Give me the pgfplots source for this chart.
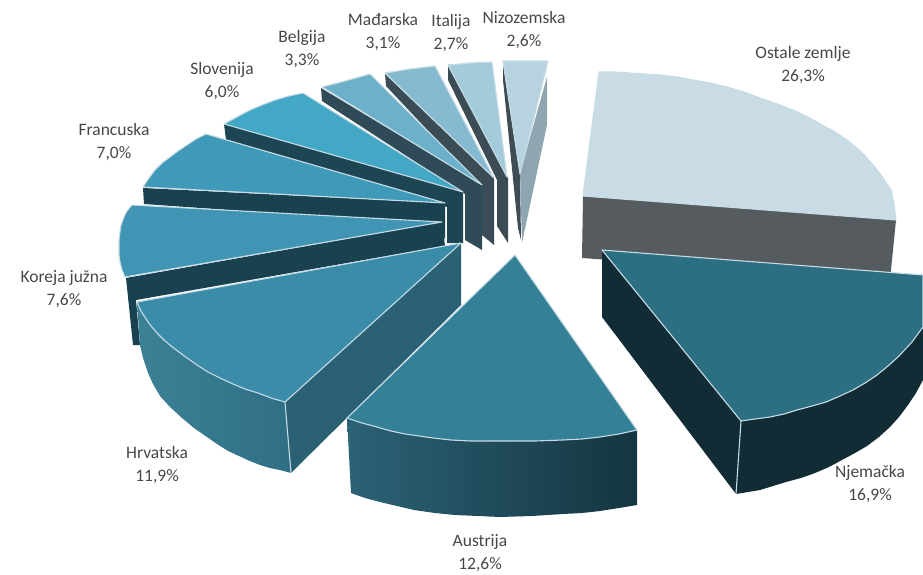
\documentclass[border=0pt]{standalone}
\usepackage{fontspec}
\setmainfont{Carlito}
\usepackage{pgfplots}
\pgfplotsset{compat=1.18}
\definecolor{edge}{HTML}{C6DCE4}
\definecolor{nizD}{HTML}{3F4C54}\definecolor{nizG}{HTML}{8FA6B1}\definecolor{nizT}{HTML}{B8D3E0}
\definecolor{itaD}{HTML}{3C4C55}\definecolor{itaT}{HTML}{A4CBDC}
\definecolor{madD}{HTML}{3A4D57}\definecolor{madT}{HTML}{85BAD0}
\definecolor{belD}{HTML}{2F4B58}\definecolor{belT}{HTML}{6CB0CA}
\definecolor{sloD}{HTML}{1E4553}\definecolor{sloT}{HTML}{43A7C6}
\definecolor{fraD}{HTML}{1A4150}\definecolor{fraT}{HTML}{3F9ABA}
\definecolor{korT}{HTML}{3F95B3}
\definecolor{hrvI}{HTML}{2A6174}\definecolor{hrvA}{HTML}{3D8197}\definecolor{hrvB}{HTML}{2F6F85}\definecolor{hrvT}{HTML}{3A8CA8}
\definecolor{ausA}{HTML}{2B6276}\definecolor{ausB}{HTML}{153541}\definecolor{ausT}{HTML}{348097}
\definecolor{ostG}{HTML}{555B5E}\definecolor{ostT}{HTML}{C9DCE6}
\definecolor{njeD}{HTML}{122C36}\definecolor{njeT}{HTML}{2C6E82}
\pgfplotsset{
  face/.style={draw=edge, line width=1.1pt, line join=round, fill=#1, no markers},
  side/.style={draw=none, fill=#1, no markers},
  grad/.style 2 args={draw=none, left color=#1, right color=#2, no markers},
}
\tikzset{lbl/.style={align=center, text=black!72, font=\fontsize{17.5}{22.5}\selectfont}}
\begin{document}
\begin{tikzpicture}
\useasboundingbox (0,0) rectangle (923pt,575pt);
\begin{axis}[
    scale only axis,
    width=923pt, height=575pt,
    xmin=0, xmax=923, ymin=0, ymax=575,
    y dir=reverse,
    hide axis,
    clip=true,
]
% Nizozemska 2,6
\addplot[side=nizD] coordinates {(503,64) (520,175) (521,240) (518,228) (503,80)} --cycle;
\addplot[side=nizG] coordinates {(547,77) (547,125) (522,243) (520,173)} --cycle;
\addplot[face=nizT] coordinates {(503,61) (548,61) (520,174)} --cycle;
% Italija 2,7
\addplot[side=itaD] coordinates {(448,64) (508,178) (508,243) (497,226) (497,180) (448,80)} --cycle;
\addplot[face=itaT] coordinates {(448,65) (470,63) (492,62) (507,177)} --cycle;
% Mađarska 3,1
\addplot[side=madD] coordinates {(385,74) (494,178) (494,245) (482,235) (482,188) (386,86)} --cycle;
\addplot[face=madT] coordinates {(385,73) (410,69) (435,66) (494,178)} --cycle;
% Belgija 3,3
\addplot[side=belD] coordinates {(321,88) (482,185) (482,250) (465,240) (465,194) (322,101)} --cycle;
\addplot[face=belT] coordinates {(322,87) (345,81) (370,74) (482,185)} --cycle;
% Slovenija 6,0
\addplot[side=sloD] coordinates {(224,124) (463,192) (463,243) (447,243) (447,207) (226,140)} --cycle;
\addplot[face=sloT] coordinates {(224,124) (237,117) (250,110) (262,105) (275,100) (289,96) (303,93) (463,192)} --cycle;
% Francuska 7,0
\addplot[side=fraD] coordinates {(143,188) (445,203) (445,240) (440,225) (144,204)} --cycle;
\addplot[face=fraT] coordinates {(143,187) (149,178) (155,170) (162,163) (170,157) (178,151) (187,145) (196,139) (206,134) (445,203)} --cycle;
% Koreja južna 7,6
\addplot[side=fraD] coordinates {(126,278) (442,222) (445,246) (461,243) (136,300) (140,345) (133,345)} --cycle;
\addplot[face=korT] coordinates {(132,205) (127,211) (124,217) (121,225) (120,232) (119,240) (119,248) (119,255) (120,262) (122,270) (125,277) (442,222)} --cycle;
% Hrvatska 11,9
\addplot[side=hrvI] coordinates {(285,402) (461,243) (461,305) (291,473)} --cycle;
\addplot[grad={hrvA}{hrvB}] coordinates {(137,302) (141,311) (146,319) (157,333) (171,346) (187,358) (208,372) (233,384) (258,393) (285,402) (291,473) (280,470) (270,468) (260,465) (250,461) (239,456) (228,451) (217,444) (207,437) (194,428) (182,418) (170,407) (160,396) (153,384) (148,373) (143,358) (140,345)} --cycle;
\addplot[draw=edge, line width=1.1pt, no markers] coordinates {(285,402) (291,473)};
\addplot[face=hrvT] coordinates {(137,302) (461,243) (285,402) (271,398) (258,393) (245,389) (233,384) (220,378) (208,372) (197,365) (187,358) (179,352) (171,346) (164,340) (157,333) (151,326) (146,319) (141,311)} --cycle;
% Austrija 12,6
\addplot[grad={ausA}{ausB}] coordinates {(347,418) (377,427) (405,434) (433,438) (470,441) (507,441) (563,440) (600,437) (637,430) (637,505) (619,508) (600,511) (582,513) (563,514) (532,516) (500,517) (478,516) (455,515) (435,513) (414,510) (397,506) (380,502) (365,498) (351,493)} --cycle;
\addplot[face=ausT] coordinates {(515,255) (637,430) (619,434) (600,437) (582,439) (563,440) (535,441) (507,441) (488,441) (470,441) (451,440) (433,438) (419,436) (405,434) (391,431) (377,427) (362,423) (347,418)} --cycle;
% Ostale zemlje 26,3
\addplot[side=ostG] coordinates {(583,196) (896,220) (890,280) (582,258)} --cycle;
\addplot[face=ostT] coordinates {(599,72) (615,72) (630,73) (645,74) (660,75) (677,77) (693,80) (710,83) (727,87) (744,92) (760,98) (777,104) (793,110) (808,117) (822,125) (835,132) (847,140) (857,148) (866,157) (874,166) (881,175) (887,184) (891,190) (894,204) (896,220) (583,196)} --cycle;
% Njemačka 16,9
\addplot[side=njeD] coordinates {(602,250) (741,421) (736,494) (602,317)} --cycle;
\addplot[side=njeD] coordinates {(741,421) (770,417) (797,410) (826,402) (853,390) (877,375) (899,356) (912,342) (923,327) (923,380) (916,393) (908,405) (899,417) (890,427) (879,437) (867,446) (855,453) (842,460) (829,467) (815,473) (801,478) (786,482) (773,486) (760,490) (748,492) (736,494)} --cycle;
\addplot[draw=edge, line width=1.1pt, no markers] coordinates {(741,421) (736,494)};
\addplot[face=njeT] coordinates {(602,250) (923,275) (923,327) (912,342) (899,356) (888,366) (877,375) (865,383) (853,390) (840,396) (826,402) (812,406) (797,410) (784,414) (770,417) (755,419) (741,421)} --cycle;
% labels
\node[lbl] at (axis cs:803,65) {Ostale zemlje\\26,3\%};
\node[lbl] at (axis cs:870,484) {Njemačka\\16,9\%};
\node[lbl] at (axis cs:480,553) {Austrija\\12,6\%};
\node[lbl] at (axis cs:157,465) {Hrvatska\\11,9\%};
\node[lbl] at (axis cs:64,289) {Koreja južna\\7,6\%};
\node[lbl] at (axis cs:114,142) {Francuska\\7,0\%};
\node[lbl] at (axis cs:222,81) {Slovenija\\6,0\%};
\node[lbl] at (axis cs:302,49) {Belgija\\3,3\%};
\node[lbl] at (axis cs:383,32) {Mađarska\\3,1\%};
\node[lbl] at (axis cs:451,33) {Italija\\2,7\%};
\node[lbl] at (axis cs:524,30) {Nizozemska\\2,6\%};
\end{axis}
\end{tikzpicture}
\end{document}
